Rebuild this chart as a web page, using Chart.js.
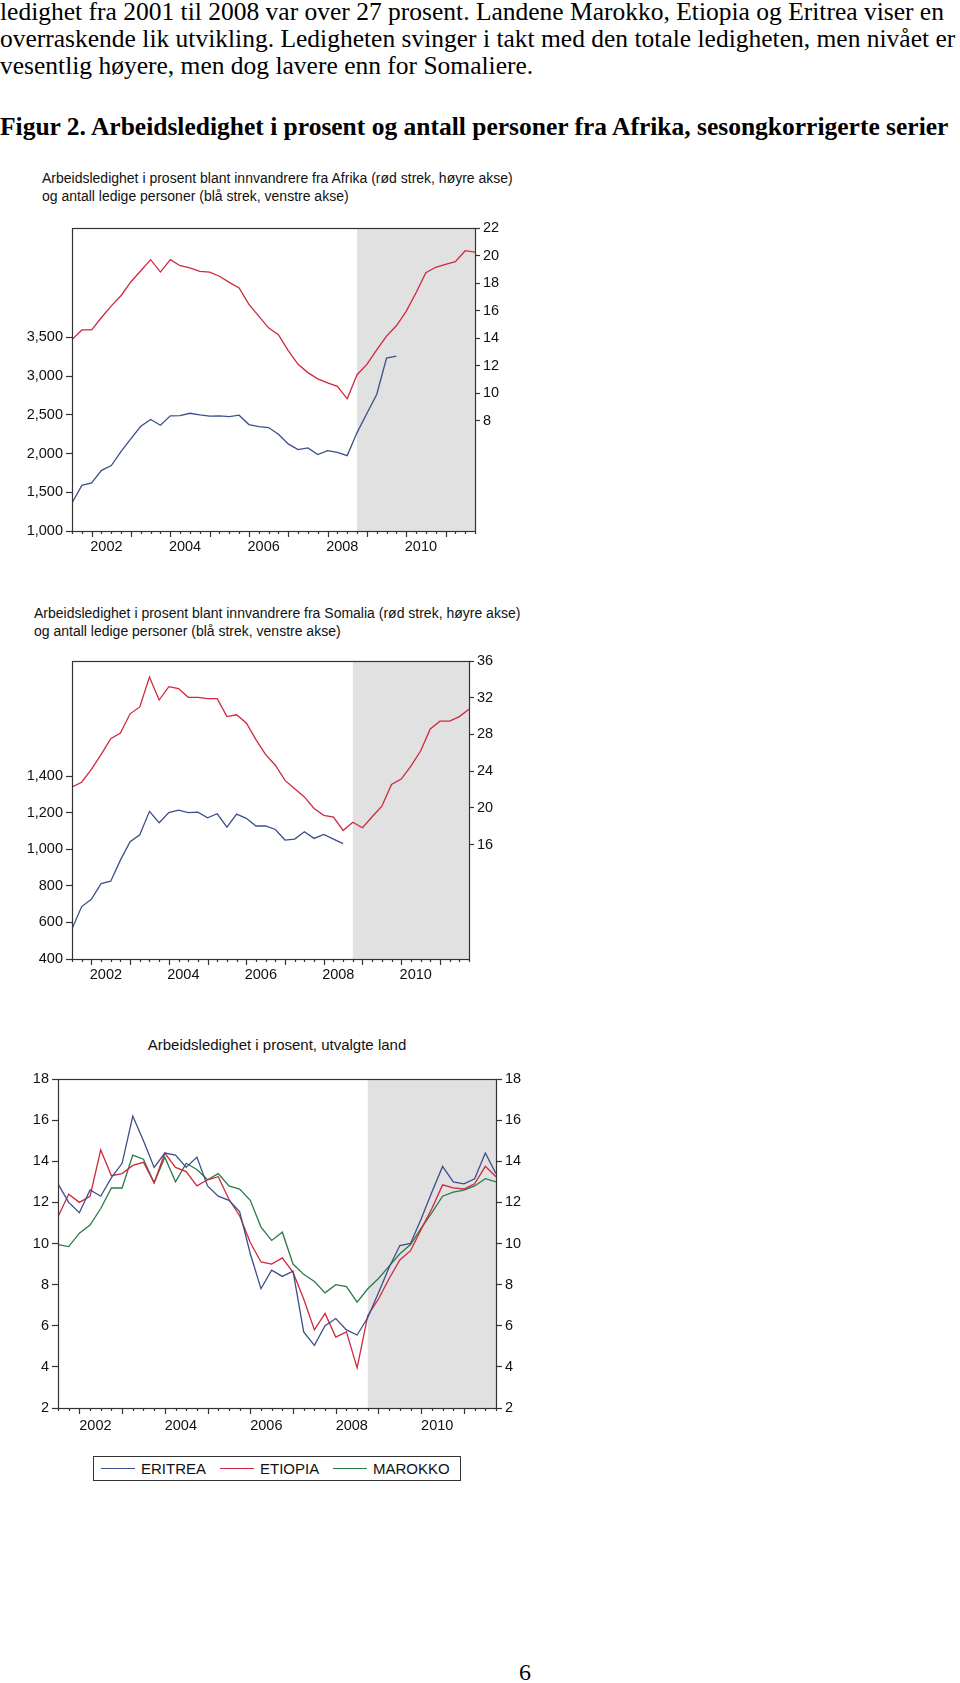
<!DOCTYPE html>
<html>
<head>
<meta charset="utf-8">
<script src="https://cdn.jsdelivr.net/npm/chart.js@4.4.0/dist/chart.umd.min.js"></script>
<style>
  html, body { margin:0; padding:0; background:#fff; }
  body { width:960px; height:1683px; position:relative; overflow:hidden; }
  .p { position:absolute; left:0; font-family:"Liberation Serif","Times New Roman",serif; font-size:25.5px; color:#000; white-space:nowrap; line-height:1; }
  .h { font-weight:bold; }
  .sub { position:absolute; font-family:"Liberation Sans",Arial,sans-serif; font-size:14px; color:#111; white-space:nowrap; line-height:1; }
  canvas.c { position:absolute; left:0; }
  .legend { position:absolute; left:93px; top:1456px; width:366px; height:23px; border:1px solid #333; font-family:"Liberation Sans",Arial,sans-serif; font-size:15px; color:#111; }
  .li { position:absolute; top:4px; line-height:16px; }
  .ln { position:absolute; top:11px; height:0; border-top:1.3px solid; }
</style>
</head>
<body>
<div class="p" style="top:-1.5px">ledighet fra 2001 til 2008 var over 27 prosent. Landene Marokko, Etiopia og Eritrea viser en</div>
<div class="p" style="top:25.5px">overraskende lik utvikling. Ledigheten svinger i takt med den totale ledigheten, men nivået er</div>
<div class="p" style="top:52.5px">vesentlig høyere, men dog lavere enn for Somaliere.</div>
<div class="p h" style="top:113.5px">Figur 2. Arbeidsledighet i prosent og antall personer fra Afrika, sesongkorrigerte serier</div>

<div class="sub" style="left:42px;top:171px">Arbeidsledighet i prosent blant innvandrere fra Afrika (rød strek, høyre akse)</div>
<div class="sub" style="left:42px;top:189px">og antall ledige personer (blå strek, venstre akse)</div>
<canvas class="c" id="c1" width="530" height="345" style="top:215px;width:530px;height:345px"></canvas>

<div class="sub" style="left:34px;top:606px">Arbeidsledighet i prosent blant innvandrere fra Somalia (rød strek, høyre akse)</div>
<div class="sub" style="left:34px;top:624px">og antall ledige personer (blå strek, venstre akse)</div>
<canvas class="c" id="c2" width="530" height="345" style="top:645px;width:530px;height:345px"></canvas>

<div class="sub" style="left:0;width:554px;text-align:center;top:1037px;font-size:15px">Arbeidsledighet i prosent, utvalgte land</div>
<canvas class="c" id="c3" width="540" height="380" style="top:1065px;width:540px;height:380px"></canvas>

<div class="legend">
  <div class="ln" style="left:7px;width:34px;border-color:#3d4f8a"></div>
  <div class="li" style="left:47px">ERITREA</div>
  <div class="ln" style="left:126px;width:34px;border-color:#d0283c"></div>
  <div class="li" style="left:166px">ETIOPIA</div>
  <div class="ln" style="left:239px;width:34px;border-color:#2a7a4a"></div>
  <div class="li" style="left:279px">MAROKKO</div>
</div>

<div class="p" style="top:1660px;left:519px;font-size:24px">6</div>

<script>
// ---- categories (quarters 2001Q3 .. 2011Q4) ----
const QUARTERS = ['2001Q3','2001Q4',
  '2002Q1','2002Q2','2002Q3','2002Q4','2003Q1','2003Q2','2003Q3','2003Q4',
  '2004Q1','2004Q2','2004Q3','2004Q4','2005Q1','2005Q2','2005Q3','2005Q4',
  '2006Q1','2006Q2','2006Q3','2006Q4','2007Q1','2007Q2','2007Q3','2007Q4',
  '2008Q1','2008Q2','2008Q3','2008Q4','2009Q1','2009Q2','2009Q3','2009Q4',
  '2010Q1','2010Q2','2010Q3','2010Q4','2011Q1','2011Q2','2011Q3','2011Q4'];
const YEAR_LABELS = ['2002','2004','2006','2008','2010'];
const SHADE_FROM = '2008Q4';

// ---- Chart 1: Afrika ----
const AFRIKA_PCT = [13.9,14.6,14.6,15.5,16.35,17.1,18.1,18.9,19.7,18.8,19.7,19.26,19.1,18.85,18.8,18.5,18.05,17.65,16.45,15.6,14.75,14.25,13.1,12.1,11.5,11.05,10.75,10.5,9.6,11.35,12.1,13.15,14.15,14.9,15.95,17.3,18.75,19.15,19.35,19.55,20.35,20.25];
const AFRIKA_PERS = [1362,1590,1621,1784,1845,2030,2194,2353,2440,2366,2487,2491,2521,2500,2483,2487,2478,2496,2375,2349,2336,2250,2125,2052,2073,1987,2039,2017,1974,2271,2517,2763,3233,3258];
const C1_LEFT_TICKS = [1000,1500,2000,2500,3000,3500];
const C1_RIGHT_TICKS = [8,10,12,14,16,18,20,22];

// ---- Chart 2: Somalia ----
const SOMALIA_PCT = [22.3,22.8,24.2,25.8,27.55,28.15,30.25,31.0,34.25,31.75,33.2,33.0,32.05,32.05,31.9,31.9,29.95,30.15,29.25,27.45,25.8,24.65,23.0,22.1,21.2,19.95,19.2,19.0,17.55,18.45,17.85,19.05,20.2,22.55,23.15,24.55,26.2,28.6,29.45,29.45,29.95,30.75];
const SOMALIA_PERS = [565,687,727,813,826,941,1042,1080,1208,1146,1201,1215,1201,1204,1173,1195,1122,1193,1170,1128,1128,1109,1051,1056,1096,1060,1082,1056,1031];
const C2_LEFT_TICKS = [400,600,800,1000,1200,1400];
const C2_RIGHT_TICKS = [16,20,24,28,32,36];

// ---- Chart 3: utvalgte land ----
const ERITREA = [12.9,12.0,11.5,12.6,12.3,13.2,13.9,16.2,15.0,13.7,14.4,14.3,13.7,14.2,12.8,12.3,12.1,11.55,9.5,7.8,8.7,8.4,8.65,5.7,5.05,6.0,6.35,5.8,5.55,6.4,7.6,8.85,9.9,10.0,11.2,12.5,13.75,13.0,12.9,13.15,14.4,13.4];
const ETIOPIA = [11.3,12.4,12.0,12.3,14.55,13.3,13.4,13.8,13.95,12.95,14.4,13.7,13.5,12.8,13.1,13.25,12.15,11.35,10.05,9.1,9.0,9.3,8.6,7.3,5.8,6.6,5.45,5.7,3.95,6.5,7.3,8.3,9.2,9.65,10.7,11.7,12.85,12.7,12.65,12.9,13.75,13.25];
const MAROKKO = [9.95,9.85,10.5,10.9,11.7,12.7,12.7,14.3,14.1,12.95,14.2,13.0,13.9,13.6,13.1,13.4,12.8,12.65,12.1,10.8,10.15,10.55,9.0,8.5,8.15,7.6,8.0,7.9,7.15,7.8,8.3,8.9,9.5,9.95,10.75,11.5,12.3,12.5,12.6,12.8,13.15,13.0];
const C3_TICKS = [2,4,6,8,10,12,14,16,18];

const BLUE = '#3d4f8a', RED = '#d0283c', GREEN = '#2a7a4a';
const FONT = {family:'"Liberation Sans", Arial, sans-serif', size:14.5};
const FRAME = '#333';

function yearPos(y){ return QUARTERS.indexOf(y + 'Q1') + 1.5; }

const framePlugin = {
  id:'frame',
  beforeDatasetsDraw(chart){
    const {ctx, chartArea:a, scales:{x}} = chart;
    const s = x.getPixelForValue(QUARTERS.indexOf(SHADE_FROM));
    ctx.save(); ctx.fillStyle = '#e1e1e1';
    ctx.fillRect(s, a.top, a.right - s, a.bottom - a.top);
    ctx.restore();
  },
  afterDraw(chart){
    const {ctx, chartArea:a, scales:{x}} = chart;
    ctx.save();
    ctx.strokeStyle = FRAME; ctx.lineWidth = 1.2;
    ctx.strokeRect(Math.round(a.left)+0.5, Math.round(a.top)+0.5, Math.round(a.right-a.left), Math.round(a.bottom-a.top));
    ctx.beginPath();
    QUARTERS.forEach((q,i)=>{
      const px = Math.round(x.getPixelForValue(i)) + 0.5;
      const len = q.endsWith('Q1') ? 6 : 3;
      ctx.moveTo(px, a.bottom); ctx.lineTo(px, a.bottom + len);
    });
    ctx.stroke();
    ctx.restore();
  }
};

function makeChart(id, cfg){
  const yAxes = {};
  cfg.axes.forEach(ax=>{
    yAxes[ax.id] = {
      type:'linear', position:ax.pos, min:ax.min, max:ax.max,
      afterBuildTicks: s => { s.ticks = ax.ticks.map(v=>({value:v})); },
      afterFit: s => { s.width = ax.width; },
      border:{display:false},
      grid:{drawOnChartArea:false, drawTicks:true, tickLength:ax.tick, tickColor:FRAME, tickWidth:1.2},
      ticks:{color:'#111', font:FONT, padding:3, autoSkip:false,
        callback: v => ax.comma ? v.toLocaleString('en-US') : String(v)}
    };
  });
  return new Chart(document.getElementById(id), {
    type:'line',
    data:{ labels:QUARTERS, datasets:cfg.datasets.map(d=>({
      label:d.label, data:d.data, yAxisID:d.axis, borderColor:d.color, backgroundColor:d.color,
      borderWidth:1.3, pointRadius:0, tension:0, fill:false
    }))},
    options:{
      responsive:false, animation:false, devicePixelRatio:1,
      layout:{padding:{top:cfg.padTop, left:0, right:0, bottom:0}},
      plugins:{legend:{display:false}, tooltip:{enabled:false}, title:{display:false}},
      scales:Object.assign({
        x:{ type:'category', offset:false, min:0, max:QUARTERS.length-1,
          afterBuildTicks: s => { s.ticks = YEAR_LABELS.map(y=>({value:yearPos(y)})); },
          afterFit: s => { s.height = cfg.xHeight; },
          border:{display:false},
          grid:{display:true, drawOnChartArea:false, drawTicks:false},
          ticks:{color:'#111', font:FONT, padding:cfg.xPad, maxRotation:0, autoSkip:false,
            callback: (v,i) => YEAR_LABELS[i]}
        }
      }, yAxes)
    },
    plugins:[framePlugin]
  });
}

makeChart('c1', {
  padTop:13, xHeight:29, xPad:7,
  axes:[
    {id:'yL', pos:'left', min:1000, max:4914, ticks:C1_LEFT_TICKS, width:72, tick:6, comma:true},
    {id:'yR', pos:'right', min:0, max:22, ticks:C1_RIGHT_TICKS, width:55, tick:5}
  ],
  datasets:[
    {label:'Antall ledige', data:AFRIKA_PERS, axis:'yL', color:BLUE},
    {label:'Prosent', data:AFRIKA_PCT, axis:'yR', color:RED}
  ]
});

makeChart('c2', {
  padTop:16, xHeight:31, xPad:7,
  axes:[
    {id:'yL', pos:'left', min:400, max:2031, ticks:C2_LEFT_TICKS, width:72, tick:6, comma:true},
    {id:'yR', pos:'right', min:3.56, max:36, ticks:C2_RIGHT_TICKS, width:61, tick:5}
  ],
  datasets:[
    {label:'Antall ledige', data:SOMALIA_PERS, axis:'yL', color:BLUE},
    {label:'Prosent', data:SOMALIA_PCT, axis:'yR', color:RED}
  ]
});

makeChart('c3', {
  padTop:14, xHeight:37, xPad:9,
  axes:[
    {id:'yL', pos:'left', min:2, max:18, ticks:C3_TICKS, width:58, tick:6},
    {id:'yR', pos:'right', min:2, max:18, ticks:C3_TICKS, width:44, tick:6}
  ],
  datasets:[
    {label:'ERITREA', data:ERITREA, axis:'yL', color:BLUE},
    {label:'ETIOPIA', data:ETIOPIA, axis:'yL', color:RED},
    {label:'MAROKKO', data:MAROKKO, axis:'yL', color:GREEN}
  ]
});
</script>
</body>
</html>
